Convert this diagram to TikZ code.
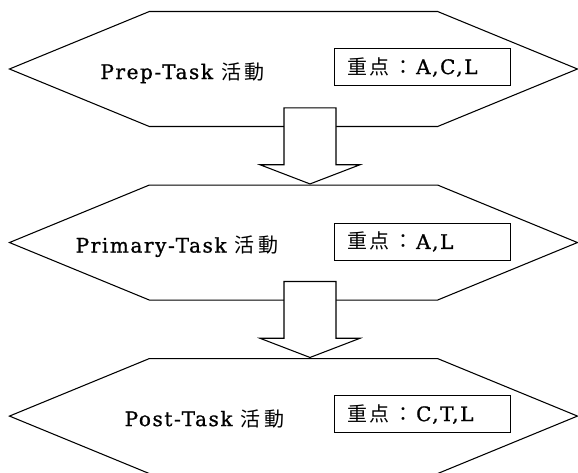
\documentclass[tikz,border=0pt]{standalone}
\usepackage{fontspec}
\setmainfont{DejaVu Serif}[LetterSpace=8, FakeBold=1]
\newfontfamily\jpfont{Noto Sans CJK JP}[LetterSpace=18]
\newfontfamily\jpboxfont{Noto Sans CJK JP}[LetterSpace=8]
\usetikzlibrary{shapes.symbols,shapes.arrows,positioning,calc}

\begin{document}
\begin{tikzpicture}[
    node distance=43.1pt,
    stage/.style={signal, draw, signal to=west and east, signal pointer angle=44.7, minimum width=426pt, minimum height=86.25pt, inner sep=0pt, line width=0.8pt},
    tasktext/.style={anchor=base, font=\fontsize{15}{18}\selectfont},
    focus/.style={rectangle, draw, line width=0.8pt, anchor=west, minimum width=132pt, minimum height=27.5pt, text width=112pt, inner xsep=10pt, align=left, font=\fontsize{15}{18}\selectfont},
    flow/.style={single arrow, draw, fill=white, line width=0.8pt, shape border rotate=270, single arrow head extend=18pt, single arrow tip angle=138, minimum height=57pt, minimum width=74.25pt, inner sep=19.1pt, anchor=tip}
]
    \useasboundingbox (0,0) rectangle (433.5pt,-354pt);

    % the three stages, top to bottom
    \node[stage] (prep) at (220.1pt,-51.75pt) {};
    \node[stage, below=of prep] (primary) {};
    \node[stage, below=of primary] (post) {};

    % stage names
    \node[tasktext] (preptext) at ($(prep.center)+(-83.2pt,-7.5pt)$) {Prep-Task {\jpfont 活動}};
    \node[tasktext] (primarytext) at ($(primary.center)+(-87.4pt,-7.5pt)$) {Primary-Task {\jpfont 活動}};
    \node[tasktext] (posttext) at ($(post.center)+(-66.8pt,-7.5pt)$) {Post-Task {\jpfont 活動}};

    % focus boxes
    \node[focus] (prepfocus) at ($(prep.center)+(30.4pt,1.5pt)$) {{\jpboxfont 重点\hspace{3pt}：\hspace{2pt}}A,C,L};
    \node[focus] (primaryfocus) at ($(primary.center)+(30.4pt,0.5pt)$) {{\jpboxfont 重点\hspace{3pt}：\hspace{2pt}}A,L};
    \node[focus] (postfocus) at ($(post.center)+(30.4pt,1.5pt)$) {{\jpboxfont 重点\hspace{3pt}：\hspace{2pt}}C,T,L};

    % block arrows between stages
    \node[flow] (prepflow) at ($(primary.north)+(12.4pt,0)$) {};
    \node[flow] (primaryflow) at ($(post.north)+(12.4pt,0)$) {};
\end{tikzpicture}
\end{document}
